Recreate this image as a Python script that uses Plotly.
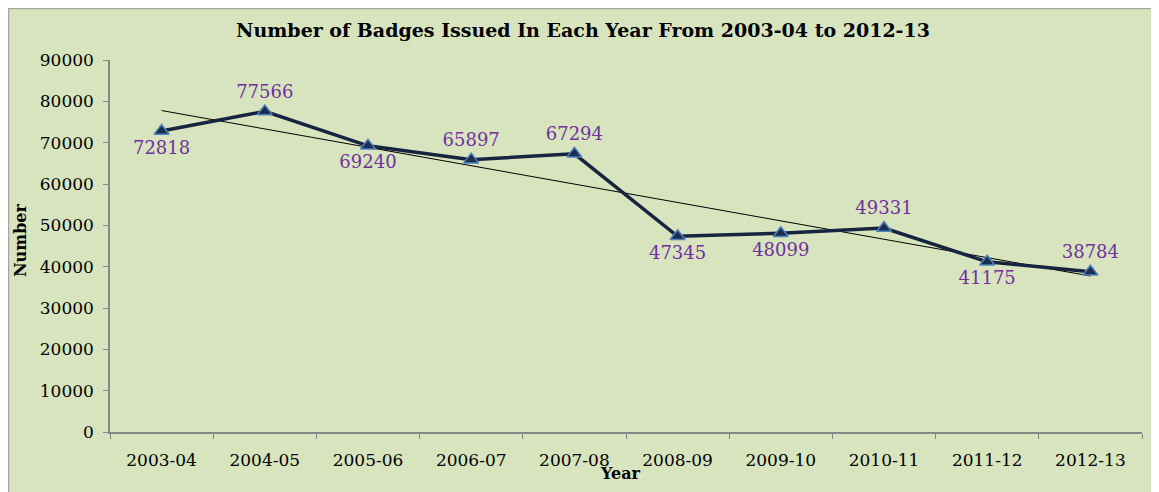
import numpy as np
import plotly.graph_objects as go

years = ["2003-04", "2004-05", "2005-06", "2006-07", "2007-08",
         "2008-09", "2009-10", "2010-11", "2011-12", "2012-13"]
badges = [72818, 77566, 69240, 65897, 67294, 47345, 48099, 49331, 41175, 38784]
label_pos = ["bottom center", "top center", "bottom center", "top center", "top center",
             "bottom center", "bottom center", "top center", "bottom center", "top center"]
y_ticks = [0, 10000, 20000, 30000, 40000, 50000, 60000, 70000, 80000, 90000]
y_tick_text = ["0", "10000", "20000", "30000", "40000", "50000",
               "60000", "70000", "80000", "90000"]

# linear trendline (least squares) from the data
idx = np.arange(len(badges))
slope, intercept = np.polyfit(idx, badges, 1)
trend = (slope * idx + intercept).tolist()

GREEN = "#d7e4bd"
SERIF = "DejaVu Serif, serif"

fig = go.Figure()
fig.add_trace(go.Scatter(
    x=years, y=trend, mode="lines",
    line=dict(color="#000000", width=1), hoverinfo="skip", showlegend=False))
fig.add_trace(go.Scatter(
    x=years, y=badges, mode="lines+markers+text",
    line=dict(color="#17243f", width=3.5),
    marker=dict(symbol="triangle-up", size=13, color="#1a2e52",
                line=dict(color="#4f81bd", width=1.5)),
    text=[str(v) for v in badges], textposition=label_pos,
    textfont=dict(family=SERIF, size=18, color="#7030a0"),
    cliponaxis=False, showlegend=False))

# page body has an 8px margin, so the figure is drawn 8px in and down
W, H = 1151, 484
ml, mr, mt, mb = 102, 17, 52, 60
pw, ph = W - ml - mr, H - mt - mb

fig.add_shape(type="rect", xref="paper", yref="paper", layer="below",
              x0=(0.5 - ml) / pw, x1=(W + 5 - ml) / pw,
              y0=-(mb + 5) / ph, y1=(H - mb - 0.5) / ph,
              fillcolor=GREEN, line=dict(color="#a6a6a6", width=1.5))

# axis titles placed as annotations
fig.add_annotation(text="<b>Year</b>", xref="paper", yref="paper",
                   x=0.495, y=-42 / ph, xanchor="center", yanchor="middle",
                   showarrow=False, font=dict(family=SERIF, size=16, color="#000"))
fig.add_annotation(text="<b>Number</b>", xref="paper", yref="paper",
                   x=(12 - ml) / pw, y=(H - mb - 232) / ph, textangle=-90,
                   xanchor="center", yanchor="middle",
                   showarrow=False, font=dict(family=SERIF, size=16, color="#000"))

fig.update_layout(
    width=W, height=H,
    margin=dict(l=ml, r=mr, t=mt, b=mb),
    paper_bgcolor="white", plot_bgcolor=GREEN,
    font=dict(family=SERIF, size=16, color="#000000"),
    title=dict(text="<b>Number of Badges Issued In Each Year From 2003-04 to 2012-13</b>",
               x=575 / W, xref="container", xanchor="center",
               y=1 - 22 / H, yref="container", yanchor="middle",
               font=dict(family=SERIF, size=19, color="#000000")),
    xaxis=dict(
        type="category", categoryorder="array", categoryarray=years,
        showline=True, linecolor="#868686", linewidth=1.5,
        ticks="outside", tickson="boundaries", ticklen=5, tickcolor="#868686",
        showgrid=False, zeroline=False,
        tickfont=dict(family=SERIF, size=17), ticklabelstandoff=12,
        range=[-0.5, len(years) - 0.5],
    ),
    yaxis=dict(
        range=[0, 90000], tickvals=y_ticks, ticktext=y_tick_text,
        showline=True, linecolor="#868686", linewidth=1.5,
        ticks="outside", ticklen=5, tickcolor="#868686",
        showgrid=False, zeroline=False,
        tickfont=dict(family=SERIF, size=17), ticklabelstandoff=6,
    ),
)

fig.write_html("out.html")
